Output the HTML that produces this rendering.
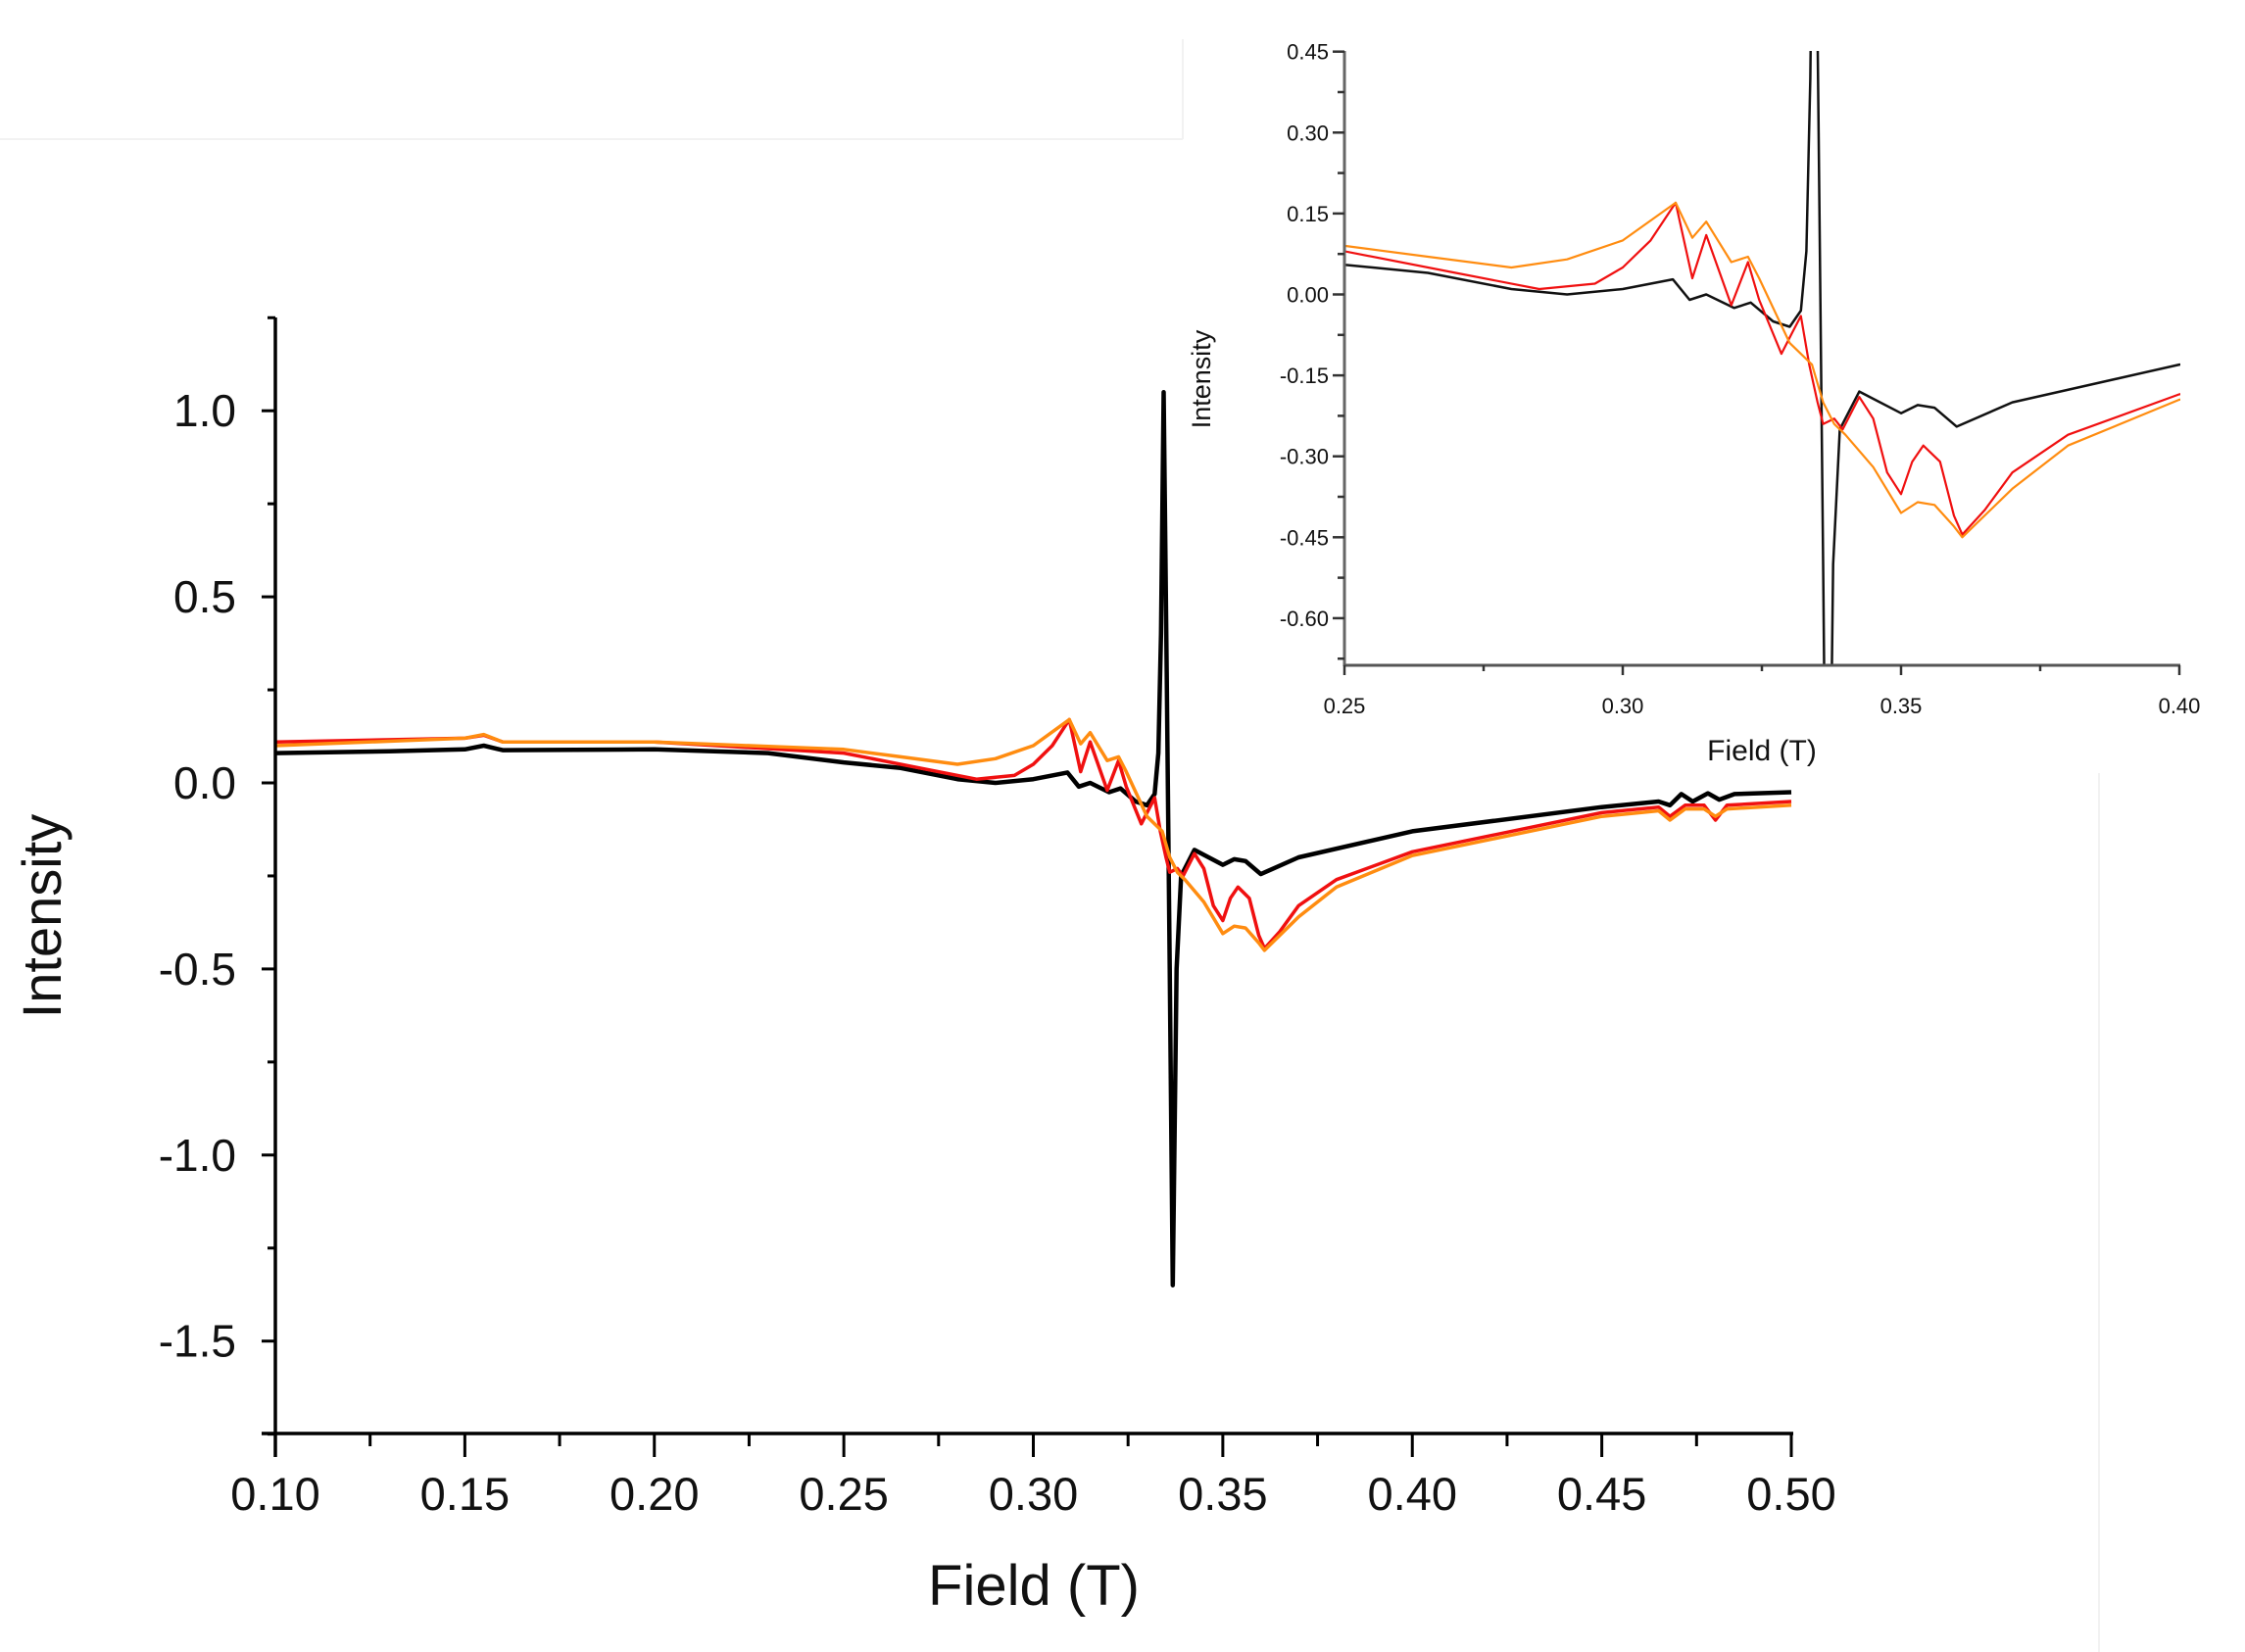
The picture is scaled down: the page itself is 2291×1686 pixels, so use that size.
<!DOCTYPE html>
<html><head><meta charset="utf-8"><style>
html,body{margin:0;padding:0;background:#fff;}
svg{display:block;}
text{font-family:"Liberation Sans",sans-serif;fill:#111;}
</style></head><body>
<svg id="s" width="2291" height="1686" viewBox="0 0 2291 1686" xmlns="http://www.w3.org/2000/svg">
<defs>
<clipPath id="ci"><rect x="1372" y="52" width="853" height="628"/></clipPath>
<clipPath id="cm"><rect x="281" y="300" width="1550" height="1163"/></clipPath>
</defs>
<line x1="0" y1="142" x2="1207" y2="142" stroke="#f2f2f2" stroke-width="2"/>
<line x1="1207" y1="40" x2="1207" y2="142" stroke="#f2f2f2" stroke-width="2"/>
<line x1="2142" y1="789" x2="2142" y2="1686" stroke="#f2f2f2" stroke-width="2"/>
<g id="g"></g>
</svg>
<script>
var black=[[0.10,0.08],[0.13,0.085],[0.15,0.09],[0.155,0.10],[0.16,0.088],[0.20,0.09],[0.23,0.08],[0.25,0.055],[0.265,0.04],[0.28,0.01],[0.29,0.0],[0.30,0.01],[0.309,0.028],[0.312,-0.01],[0.315,0.0],[0.32,-0.025],[0.323,-0.015],[0.327,-0.05],[0.33,-0.06],[0.332,-0.03],[0.333,0.08],[0.3337,0.4],[0.3344,1.05],[0.3352,0.3],[0.336,-0.5],[0.3368,-1.35],[0.3378,-0.5],[0.339,-0.25],[0.3425,-0.18],[0.35,-0.22],[0.353,-0.205],[0.356,-0.21],[0.36,-0.245],[0.37,-0.2],[0.40,-0.13],[0.45,-0.065],[0.465,-0.05],[0.468,-0.06],[0.471,-0.03],[0.474,-0.05],[0.478,-0.028],[0.481,-0.045],[0.485,-0.03],[0.50,-0.025]];
var red=[[0.10,0.11],[0.15,0.12],[0.155,0.128],[0.16,0.11],[0.20,0.11],[0.25,0.08],[0.27,0.04],[0.285,0.01],[0.295,0.02],[0.30,0.05],[0.305,0.1],[0.3095,0.17],[0.3125,0.03],[0.315,0.11],[0.3195,-0.02],[0.3225,0.06],[0.3245,-0.01],[0.3285,-0.11],[0.3305,-0.07],[0.332,-0.04],[0.3335,-0.13],[0.335,-0.2],[0.336,-0.24],[0.338,-0.23],[0.3395,-0.25],[0.3425,-0.19],[0.345,-0.23],[0.3475,-0.33],[0.35,-0.37],[0.352,-0.31],[0.354,-0.28],[0.357,-0.31],[0.3595,-0.41],[0.361,-0.445],[0.365,-0.40],[0.37,-0.33],[0.38,-0.26],[0.40,-0.185],[0.45,-0.08],[0.465,-0.065],[0.468,-0.09],[0.472,-0.06],[0.477,-0.06],[0.48,-0.10],[0.483,-0.06],[0.50,-0.05]];
var orange=[[0.10,0.10],[0.15,0.12],[0.155,0.13],[0.16,0.11],[0.20,0.11],[0.25,0.09],[0.265,0.07],[0.28,0.05],[0.29,0.065],[0.30,0.10],[0.3095,0.17],[0.3125,0.105],[0.315,0.135],[0.3195,0.06],[0.3225,0.07],[0.3245,0.03],[0.33,-0.09],[0.334,-0.13],[0.336,-0.2],[0.338,-0.24],[0.34,-0.26],[0.345,-0.32],[0.35,-0.405],[0.353,-0.385],[0.356,-0.39],[0.3595,-0.43],[0.361,-0.45],[0.37,-0.36],[0.38,-0.28],[0.40,-0.195],[0.45,-0.09],[0.465,-0.075],[0.468,-0.1],[0.472,-0.07],[0.477,-0.07],[0.48,-0.09],[0.483,-0.07],[0.50,-0.06]];
var g=document.getElementById('g'),h='';
function P(d,fx,fy){return d.map(function(p,i){return (i?'L':'M')+fx(p[0]).toFixed(1)+' '+fy(p[1]).toFixed(1);}).join(' ');}
var mx=function(v){return 281+(v-0.1)/0.4*1547;}, my=function(v){return 799-v*379.8;};
h+='<g clip-path="url(#cm)" fill="none" stroke-linejoin="round">';
h+='<path d="'+P(black,mx,my)+'" stroke="#000" stroke-width="4.5"/>';
h+='<path d="'+P(red,mx,my)+'" stroke="#f01010" stroke-width="3.5"/>';
h+='<path d="'+P(orange,mx,my)+'" stroke="#ff8c10" stroke-width="3.5"/>';
h+='</g>';
h+='<line x1="281" y1="324" x2="281" y2="1487" stroke="#000" stroke-width="3.5"/>';
h+='<line x1="267" y1="1463" x2="1830" y2="1463" stroke="#000" stroke-width="3.5"/>';
for(var v=-1.75;v<=1.26;v+=0.25){var y=my(v),maj=Math.abs(Math.round(v*2)-v*2)<1e-6;h+='<line x1="'+(maj?267:273)+'" y1="'+y+'" x2="281" y2="'+y+'" stroke="#000" stroke-width="3"/>';
 if(maj&&v>-1.6&&v<1.1){h+='<text x="241" y="'+(y+16)+'" font-size="46" text-anchor="end">'+v.toFixed(1).replace('-0.0','0.0')+'</text>';}}
for(var i=0;i<=16;i++){var v=0.1+i*0.025,x=mx(v),maj=i%2==0;h+='<line x1="'+x+'" y1="1463" x2="'+x+'" y2="'+(maj?1487:1476)+'" stroke="#000" stroke-width="3"/>';
 if(maj)h+='<text x="'+x+'" y="1541" font-size="47" text-anchor="middle">'+v.toFixed(2)+'</text>';}
h+='<text x="1055" y="1638" font-size="58" text-anchor="middle">Field (T)</text>';
h+='<text transform="translate(62,935) rotate(-90)" font-size="56" text-anchor="middle">Intensity</text>';
var ix=function(v){return 1372+(v-0.25)/0.15*852;}, iy=function(v){return 300.5-v*550.7;};
h+='<g clip-path="url(#ci)" fill="none" stroke-linejoin="round">';
h+='<path d="'+P(black,ix,iy)+'" stroke="#111" stroke-width="2.5"/>';
h+='<path d="'+P(red,ix,iy)+'" stroke="#f01010" stroke-width="2.2"/>';
h+='<path d="'+P(orange,ix,iy)+'" stroke="#ff8c10" stroke-width="2.2"/>';
h+='</g>';
h+='<line x1="1372" y1="52" x2="1372" y2="680" stroke="#666" stroke-width="3"/>';
h+='<line x1="1371" y1="679" x2="2225" y2="679" stroke="#555" stroke-width="3"/>';
for(var i=-9;i<=6;i++){var v=i*0.075,y=iy(v),maj=i%2==0;h+='<line x1="'+(maj?1360:1365)+'" y1="'+y+'" x2="1372" y2="'+y+'" stroke="#333" stroke-width="2.5"/>';
 if(maj&&v>-0.65)h+='<text x="1356" y="'+(y+8)+'" font-size="22" text-anchor="end" fill="#222">'+(Math.abs(v)<1e-9?'0.00':v.toFixed(2))+'</text>';}
for(var i=0;i<=6;i++){var v=0.25+i*0.025,x=ix(v),maj=i%2==0;h+='<line x1="'+x+'" y1="679" x2="'+x+'" y2="'+(maj?689:685)+'" stroke="#333" stroke-width="2.5"/>';
 if(maj)h+='<text x="'+x+'" y="728" font-size="22" text-anchor="middle" fill="#222">'+v.toFixed(2)+'</text>';}
h+='<text x="1798" y="776" font-size="30" text-anchor="middle">Field (T)</text>';
h+='<text transform="translate(1235,387) rotate(-90)" font-size="27" text-anchor="middle">Intensity</text>';
g.innerHTML=h;
</script>
</body></html>
